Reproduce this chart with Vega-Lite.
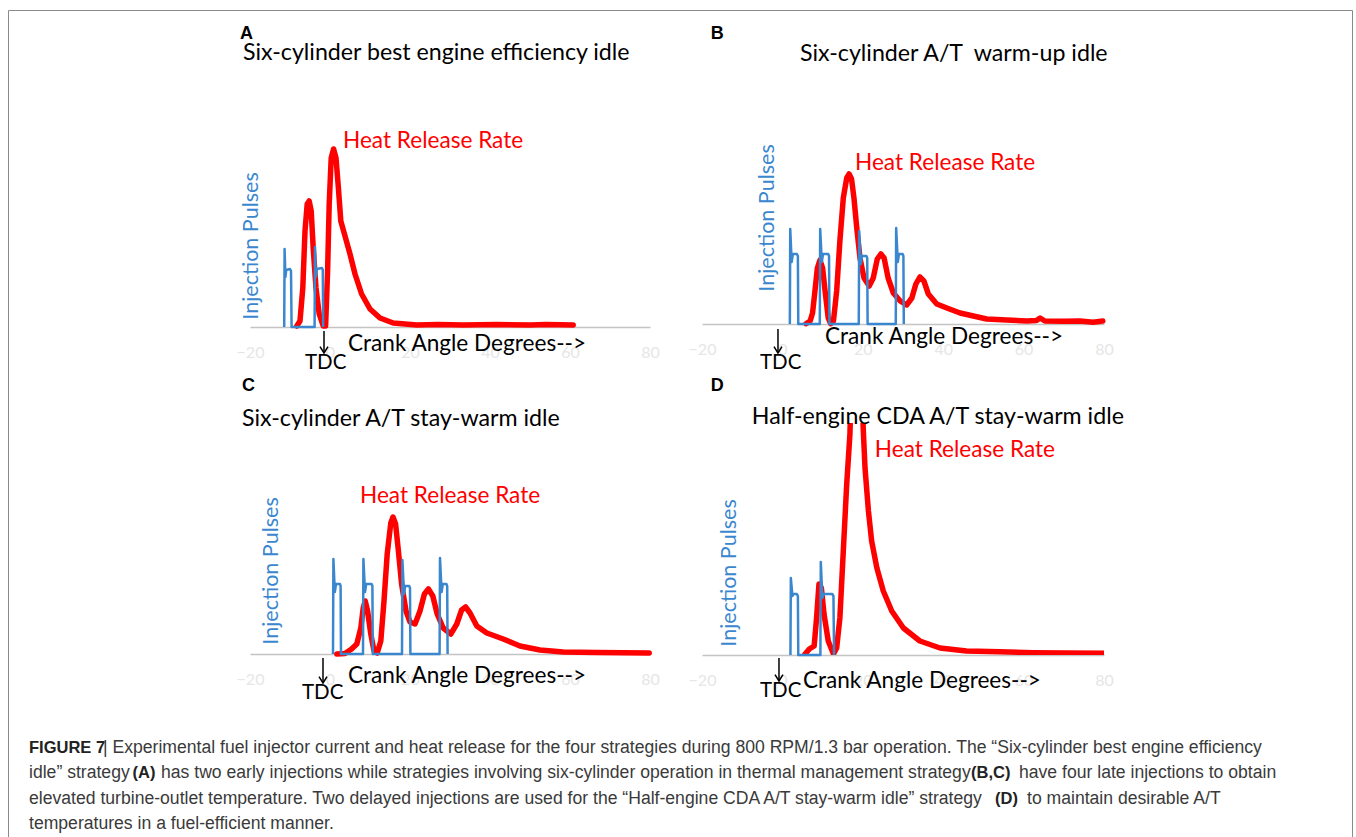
{
"$schema": "https://vega.github.io/schema/vega-lite/v6.json",
"padding": {"left": 8, "top": 9, "right": 0, "bottom": 0},
"background": "white",
"config": {"view": {"stroke": null}},
"datasets": {
"curves": [
{"panel":"A","s":"hrr","deg":-8.3,"v":1},{"panel":"A","s":"hrr","deg":-7.5,"v":6},{"panel":"A","s":"hrr","deg":-6.8,"v":39},{"panel":"A","s":"hrr","deg":-6.25,"v":96},{"panel":"A","s":"hrr","deg":-5.7,"v":123},{"panel":"A","s":"hrr","deg":-5.2,"v":126},{"panel":"A","s":"hrr","deg":-4.7,"v":116},{"panel":"A","s":"hrr","deg":-4.2,"v":79},{"panel":"A","s":"hrr","deg":-3.5,"v":39},{"panel":"A","s":"hrr","deg":-2.7,"v":13},{"panel":"A","s":"hrr","deg":-1.7,"v":1},{"panel":"A","s":"hrr","deg":-1.1,"v":1},{"panel":"A","s":"hrr","deg":-0.6,"v":56},{"panel":"A","s":"hrr","deg":-0.2,"v":123},{"panel":"A","s":"hrr","deg":0.3,"v":169},{"panel":"A","s":"hrr","deg":0.9,"v":178},{"panel":"A","s":"hrr","deg":1.5,"v":169},{"panel":"A","s":"hrr","deg":2.1,"v":139},{"panel":"A","s":"hrr","deg":2.7,"v":106},{"panel":"A","s":"hrr","deg":3.75,"v":91},{"panel":"A","s":"hrr","deg":5,"v":73},{"panel":"A","s":"hrr","deg":6.25,"v":53},{"panel":"A","s":"hrr","deg":7.9,"v":33},{"panel":"A","s":"hrr","deg":10,"v":18},{"panel":"A","s":"hrr","deg":12.5,"v":9},{"panel":"A","s":"hrr","deg":15.8,"v":4},{"panel":"A","s":"hrr","deg":21.7,"v":2},{"panel":"A","s":"hrr","deg":27,"v":2.5},{"panel":"A","s":"hrr","deg":33.3,"v":2},{"panel":"A","s":"hrr","deg":41.7,"v":2.5},{"panel":"A","s":"hrr","deg":50,"v":2},{"panel":"A","s":"hrr","deg":54,"v":2.5},{"panel":"A","s":"hrr","deg":60.8,"v":2},
{"panel":"A","s":"inj","deg":-11.45,"v":0},{"panel":"A","s":"inj","deg":-11.35,"v":78},{"panel":"A","s":"inj","deg":-11.15,"v":50},{"panel":"A","s":"inj","deg":-10.95,"v":57},{"panel":"A","s":"inj","deg":-10.0,"v":58},{"panel":"A","s":"inj","deg":-9.75,"v":56},{"panel":"A","s":"inj","deg":-9.6,"v":0},{"panel":"A","s":"inj","deg":-3.85,"v":0},{"panel":"A","s":"inj","deg":-3.75,"v":80},{"panel":"A","s":"inj","deg":-3.55,"v":50},{"panel":"A","s":"inj","deg":-3.3,"v":58},{"panel":"A","s":"inj","deg":-2.0,"v":59},{"panel":"A","s":"inj","deg":-1.8,"v":57},{"panel":"A","s":"inj","deg":-1.7,"v":0},
{"panel":"B","s":"hrr","deg":5.87,"v":0.3},{"panel":"B","s":"hrr","deg":6.9,"v":3},{"panel":"B","s":"hrr","deg":7.5,"v":11},{"panel":"B","s":"hrr","deg":8.1,"v":33},{"panel":"B","s":"hrr","deg":8.7,"v":56},{"panel":"B","s":"hrr","deg":9.35,"v":64},{"panel":"B","s":"hrr","deg":10,"v":56},{"panel":"B","s":"hrr","deg":10.7,"v":30},{"panel":"B","s":"hrr","deg":11.4,"v":6},{"panel":"B","s":"hrr","deg":12,"v":0.3},{"panel":"B","s":"hrr","deg":12.7,"v":3},{"panel":"B","s":"hrr","deg":13.5,"v":33},{"panel":"B","s":"hrr","deg":14.3,"v":83},{"panel":"B","s":"hrr","deg":15.15,"v":126},{"panel":"B","s":"hrr","deg":16,"v":146},{"panel":"B","s":"hrr","deg":16.6,"v":150},{"panel":"B","s":"hrr","deg":17.2,"v":145},{"panel":"B","s":"hrr","deg":17.8,"v":126},{"panel":"B","s":"hrr","deg":18.5,"v":96},{"panel":"B","s":"hrr","deg":19.3,"v":66},{"panel":"B","s":"hrr","deg":20.3,"v":46},{"panel":"B","s":"hrr","deg":21.6,"v":38},{"panel":"B","s":"hrr","deg":22.6,"v":46},{"panel":"B","s":"hrr","deg":23.6,"v":65},{"panel":"B","s":"hrr","deg":24.5,"v":70},{"panel":"B","s":"hrr","deg":25.3,"v":66},{"panel":"B","s":"hrr","deg":26.3,"v":46},{"panel":"B","s":"hrr","deg":27.6,"v":31},{"panel":"B","s":"hrr","deg":29.3,"v":23},{"panel":"B","s":"hrr","deg":30.9,"v":19},{"panel":"B","s":"hrr","deg":32.2,"v":26},{"panel":"B","s":"hrr","deg":33.2,"v":40},{"panel":"B","s":"hrr","deg":34.2,"v":47},{"panel":"B","s":"hrr","deg":35.2,"v":43},{"panel":"B","s":"hrr","deg":36.3,"v":30},{"panel":"B","s":"hrr","deg":38.4,"v":20},{"panel":"B","s":"hrr","deg":40.9,"v":16},{"panel":"B","s":"hrr","deg":44.2,"v":11},{"panel":"B","s":"hrr","deg":47.5,"v":8},{"panel":"B","s":"hrr","deg":50.8,"v":5},{"panel":"B","s":"hrr","deg":55.8,"v":4},{"panel":"B","s":"hrr","deg":60.8,"v":3},{"panel":"B","s":"hrr","deg":63.2,"v":3.5},{"panel":"B","s":"hrr","deg":64.1,"v":6},{"panel":"B","s":"hrr","deg":65.3,"v":3},{"panel":"B","s":"hrr","deg":69.9,"v":2.7},{"panel":"B","s":"hrr","deg":74,"v":3},{"panel":"B","s":"hrr","deg":77.3,"v":1.7},{"panel":"B","s":"hrr","deg":79.7,"v":3},
{"panel":"B","s":"inj","deg":1.85,"v":0},{"panel":"B","s":"inj","deg":1.95,"v":95},{"panel":"B","s":"inj","deg":2.3,"v":62},{"panel":"B","s":"inj","deg":2.6,"v":70},{"panel":"B","s":"inj","deg":3.6,"v":70},{"panel":"B","s":"inj","deg":3.85,"v":68},{"panel":"B","s":"inj","deg":3.95,"v":0},{"panel":"B","s":"inj","deg":9.3,"v":0},{"panel":"B","s":"inj","deg":9.4,"v":95},{"panel":"B","s":"inj","deg":9.8,"v":62},{"panel":"B","s":"inj","deg":10.1,"v":70},{"panel":"B","s":"inj","deg":11.4,"v":70},{"panel":"B","s":"inj","deg":11.6,"v":68},{"panel":"B","s":"inj","deg":11.7,"v":0},{"panel":"B","s":"inj","deg":19.0,"v":0},{"panel":"B","s":"inj","deg":19.1,"v":93},{"panel":"B","s":"inj","deg":19.5,"v":60},{"panel":"B","s":"inj","deg":19.8,"v":68},{"panel":"B","s":"inj","deg":20.9,"v":68},{"panel":"B","s":"inj","deg":21.1,"v":66},{"panel":"B","s":"inj","deg":21.2,"v":0},{"panel":"B","s":"inj","deg":28.2,"v":0},{"panel":"B","s":"inj","deg":28.3,"v":96},{"panel":"B","s":"inj","deg":28.7,"v":62},{"panel":"B","s":"inj","deg":29.0,"v":70},{"panel":"B","s":"inj","deg":29.9,"v":70},{"panel":"B","s":"inj","deg":30.1,"v":68},{"panel":"B","s":"inj","deg":30.2,"v":0},
{"panel":"C","s":"hrr","deg":1.7,"v":0},{"panel":"C","s":"hrr","deg":3.75,"v":0.5},{"panel":"C","s":"hrr","deg":5.4,"v":5},{"panel":"C","s":"hrr","deg":6.7,"v":10},{"panel":"C","s":"hrr","deg":7.7,"v":26},{"panel":"C","s":"hrr","deg":8.3,"v":46},{"panel":"C","s":"hrr","deg":8.8,"v":53},{"panel":"C","s":"hrr","deg":9.4,"v":43},{"panel":"C","s":"hrr","deg":10.2,"v":20},{"panel":"C","s":"hrr","deg":11,"v":3},{"panel":"C","s":"hrr","deg":11.8,"v":1},{"panel":"C","s":"hrr","deg":12.7,"v":13},{"panel":"C","s":"hrr","deg":13.5,"v":53},{"panel":"C","s":"hrr","deg":14.3,"v":100},{"panel":"C","s":"hrr","deg":15.2,"v":131},{"panel":"C","s":"hrr","deg":15.75,"v":137},{"panel":"C","s":"hrr","deg":16.4,"v":130},{"panel":"C","s":"hrr","deg":17.1,"v":103},{"panel":"C","s":"hrr","deg":17.9,"v":70},{"panel":"C","s":"hrr","deg":19,"v":43},{"panel":"C","s":"hrr","deg":20,"v":32},{"panel":"C","s":"hrr","deg":21.25,"v":30},{"panel":"C","s":"hrr","deg":22.5,"v":43},{"panel":"C","s":"hrr","deg":23.6,"v":60},{"panel":"C","s":"hrr","deg":24.6,"v":65},{"panel":"C","s":"hrr","deg":25.7,"v":58},{"panel":"C","s":"hrr","deg":26.8,"v":40},{"panel":"C","s":"hrr","deg":28.3,"v":26},{"panel":"C","s":"hrr","deg":30.2,"v":20},{"panel":"C","s":"hrr","deg":31.7,"v":30},{"panel":"C","s":"hrr","deg":32.9,"v":44},{"panel":"C","s":"hrr","deg":33.9,"v":47},{"panel":"C","s":"hrr","deg":35,"v":41},{"panel":"C","s":"hrr","deg":36.7,"v":28},{"panel":"C","s":"hrr","deg":39.2,"v":21},{"panel":"C","s":"hrr","deg":43.3,"v":15},{"panel":"C","s":"hrr","deg":47.5,"v":8},{"panel":"C","s":"hrr","deg":52.5,"v":4},{"panel":"C","s":"hrr","deg":58.3,"v":2},{"panel":"C","s":"hrr","deg":66.7,"v":1.5},{"panel":"C","s":"hrr","deg":79.8,"v":1},
{"panel":"C","s":"inj","deg":0.75,"v":0},{"panel":"C","s":"inj","deg":0.85,"v":95},{"panel":"C","s":"inj","deg":1.2,"v":62},{"panel":"C","s":"inj","deg":1.5,"v":70},{"panel":"C","s":"inj","deg":2.5,"v":70},{"panel":"C","s":"inj","deg":2.65,"v":68},{"panel":"C","s":"inj","deg":2.75,"v":0},{"panel":"C","s":"inj","deg":8.25,"v":0},{"panel":"C","s":"inj","deg":8.35,"v":95},{"panel":"C","s":"inj","deg":8.75,"v":62},{"panel":"C","s":"inj","deg":9.05,"v":70},{"panel":"C","s":"inj","deg":10.4,"v":70},{"panel":"C","s":"inj","deg":10.6,"v":68},{"panel":"C","s":"inj","deg":10.7,"v":0},{"panel":"C","s":"inj","deg":18.0,"v":0},{"panel":"C","s":"inj","deg":18.1,"v":94},{"panel":"C","s":"inj","deg":18.5,"v":60},{"panel":"C","s":"inj","deg":18.8,"v":68},{"panel":"C","s":"inj","deg":19.8,"v":68},{"panel":"C","s":"inj","deg":20.0,"v":66},{"panel":"C","s":"inj","deg":20.1,"v":0},{"panel":"C","s":"inj","deg":27.4,"v":0},{"panel":"C","s":"inj","deg":27.5,"v":96},{"panel":"C","s":"inj","deg":27.9,"v":62},{"panel":"C","s":"inj","deg":28.2,"v":70},{"panel":"C","s":"inj","deg":29.1,"v":70},{"panel":"C","s":"inj","deg":29.3,"v":68},{"panel":"C","s":"inj","deg":29.4,"v":0},
{"panel":"D","s":"hrr","deg":5.6,"v":0.7},{"panel":"D","s":"hrr","deg":6.7,"v":6},{"panel":"D","s":"hrr","deg":7.9,"v":9},{"panel":"D","s":"hrr","deg":8.5,"v":37},{"panel":"D","s":"hrr","deg":9.1,"v":71},{"panel":"D","s":"hrr","deg":9.7,"v":67},{"panel":"D","s":"hrr","deg":10.35,"v":41},{"panel":"D","s":"hrr","deg":11.4,"v":14},{"panel":"D","s":"hrr","deg":12.7,"v":1},{"panel":"D","s":"hrr","deg":13.5,"v":7},{"panel":"D","s":"hrr","deg":14.3,"v":37},{"panel":"D","s":"hrr","deg":15.15,"v":104},{"panel":"D","s":"hrr","deg":16,"v":171},{"panel":"D","s":"hrr","deg":16.8,"v":221},{"panel":"D","s":"hrr","deg":17.3,"v":300},{"panel":"D","s":"hrr","deg":17.9,"v":390},{"panel":"D","s":"hrr","deg":18.5,"v":420},{"panel":"D","s":"hrr","deg":19.1,"v":390},{"panel":"D","s":"hrr","deg":19.6,"v":310},{"panel":"D","s":"hrr","deg":20.1,"v":227},{"panel":"D","s":"hrr","deg":20.55,"v":187},{"panel":"D","s":"hrr","deg":21.4,"v":144},{"panel":"D","s":"hrr","deg":22.2,"v":114},{"panel":"D","s":"hrr","deg":23.5,"v":87},{"panel":"D","s":"hrr","deg":25.1,"v":64},{"panel":"D","s":"hrr","deg":27.2,"v":44},{"panel":"D","s":"hrr","deg":30.1,"v":27},{"panel":"D","s":"hrr","deg":34.2,"v":14},{"panel":"D","s":"hrr","deg":39.2,"v":7},{"panel":"D","s":"hrr","deg":45.8,"v":4},{"panel":"D","s":"hrr","deg":54.1,"v":3.3},{"panel":"D","s":"hrr","deg":62.4,"v":2.3},{"panel":"D","s":"hrr","deg":70.7,"v":2},{"panel":"D","s":"hrr","deg":80,"v":1.7},
{"panel":"D","s":"inj","deg":2.0,"v":0},{"panel":"D","s":"inj","deg":2.1,"v":77},{"panel":"D","s":"inj","deg":2.5,"v":59},{"panel":"D","s":"inj","deg":2.7,"v":61},{"panel":"D","s":"inj","deg":3.6,"v":61},{"panel":"D","s":"inj","deg":3.85,"v":59},{"panel":"D","s":"inj","deg":3.95,"v":0},{"panel":"D","s":"inj","deg":9.45,"v":0},{"panel":"D","s":"inj","deg":9.55,"v":93},{"panel":"D","s":"inj","deg":9.95,"v":57},{"panel":"D","s":"inj","deg":10.2,"v":61},{"panel":"D","s":"inj","deg":12.4,"v":61},{"panel":"D","s":"inj","deg":12.7,"v":59},{"panel":"D","s":"inj","deg":12.85,"v":0}
],
"labels": [
{"panel":"A","kind":"letter","text":"A","deg":-22.5,"v":293},
{"panel":"A","kind":"title","text":"Six-cylinder best engine efficiency idle","deg":-21.75,"v":274},
{"panel":"A","kind":"hrr","text":"Heat Release Rate","deg":3.25,"v":186},
{"panel":"A","kind":"inj","text":"Injection Pulses","deg":-19.5,"v":81},
{"panel":"A","kind":"crank","text":"Crank Angle Degrees-->","deg":4.5,"v":-17},
{"panel":"A","kind":"tdc","text":"TDC","deg":-6.25,"v":-36},
{"panel":"A","kind":"arrow","text":"","deg":-1.5,"v":-4,"v2":-26},
{"panel":"B","kind":"letter","text":"B","deg":-17.8,"v":290},
{"panel":"B","kind":"title","text":"Six-cylinder A/T\u00a0 warm-up idle","deg":4.38,"v":270},
{"panel":"B","kind":"hrr","text":"Heat Release Rate","deg":18.06,"v":161},
{"panel":"B","kind":"inj","text":"Injection Pulses","deg":-3.58,"v":106},
{"panel":"B","kind":"crank","text":"Crank Angle Degrees-->","deg":10.6,"v":-13},
{"panel":"B","kind":"tdc","text":"TDC","deg":-5.57,"v":-39},
{"panel":"B","kind":"arrow","text":"","deg":-1.1,"v":-5,"v2":-29},
{"panel":"C","kind":"letter","text":"C","deg":-22,"v":268},
{"panel":"C","kind":"title","text":"Six-cylinder A/T stay-warm idle","deg":-22,"v":235},
{"panel":"C","kind":"hrr","text":"Heat Release Rate","deg":7.5,"v":158},
{"panel":"C","kind":"inj","text":"Injection Pulses","deg":-14.5,"v":83},
{"panel":"C","kind":"crank","text":"Crank Angle Degrees-->","deg":4.5,"v":-22},
{"panel":"C","kind":"tdc","text":"TDC","deg":-7,"v":-39},
{"panel":"C","kind":"arrow","text":"","deg":-1.75,"v":-4,"v2":-29},
{"panel":"D","kind":"letter","text":"D","deg":-17.8,"v":269},
{"panel":"D","kind":"title","text":"Half-engine CDA A/T stay-warm idle","deg":-7.6,"v":238},
{"panel":"D","kind":"hrr","text":"Heat Release Rate","deg":23.0,"v":205},
{"panel":"D","kind":"inj","text":"Injection Pulses","deg":-13.0,"v":82},
{"panel":"D","kind":"crank","text":"Crank Angle Degrees-->","deg":5.1,"v":-26},
{"panel":"D","kind":"tdc","text":"TDC","deg":-5.57,"v":-36},
{"panel":"D","kind":"arrow","text":"","deg":-0.85,"v":-3,"v2":-26}
],
"caption": [
{"line":1,"at":29,"kind":"ref","text":"FIGURE 7"},
{"line":1,"at":103,"kind":"body","text":"| Experimental fuel injector current and heat release for the four strategies during 800 RPM/1.3 bar operation. The “Six-cylinder best engine efficiency"},
{"line":2,"at":29,"kind":"body","text":"idle” strategy"},
{"line":2,"at":132.5,"kind":"ref","text":"(A)"},
{"line":2,"at":161,"kind":"body","text":"has two early injections while strategies involving six-cylinder operation in thermal management strategy"},
{"line":2,"at":971,"kind":"ref","text":"(B,C)"},
{"line":2,"at":1019,"kind":"body","text":"have four late injections to obtain"},
{"line":3,"at":29,"kind":"body","text":"elevated turbine-outlet temperature. Two delayed injections are used for the “Half-engine CDA A/T stay-warm idle” strategy"},
{"line":3,"at":995,"kind":"ref","text":"(D)"},
{"line":3,"at":1027,"kind":"body","text":"to maintain desirable A/T"},
{"line":4,"at":29,"kind":"body","text":"temperatures in a fuel-efficient manner."}
]
},
"columns": 2,
"spacing": {"row": 96, "column": 52},
"bounds": "flush",
"concat": [
{"width": 400, "height": 200,
"encoding": {
"x": {"field": "deg", "type": "quantitative", "scale": {"domain": [-20, 80], "nice": false, "zero": false}, "axis": {"values": [-20, 0, 20, 40, 60, 80], "title": null, "ticks": false, "grid": false, "domainColor": "#c4c4c4", "domainWidth": 1.5, "labelColor": "#e6e6e6", "labelFont": "Lato", "labelFontSize": 16, "labelPadding": 17, "labelFlush": false, "labelOverlap": false}},
"y": {"field": "v", "type": "quantitative", "scale": {"domain": [0, 200], "nice": false, "zero": false}, "axis": null}},
"layer": [
{"data": {"name": "curves"}, "transform": [{"filter": "datum.panel === 'A' && datum.s === 'hrr'"}], "mark": {"type": "line", "color": "#ff0000", "strokeWidth": 5.5, "strokeJoin": "round", "strokeCap": "round"}},
{"data": {"name": "curves"}, "transform": [{"filter": "datum.panel === 'A' && datum.s === 'inj'"}], "mark": {"type": "line", "color": "#3a87cf", "strokeWidth": 2.5, "strokeJoin": "round"}},
{"data": {"name": "labels"}, "transform": [{"filter": "datum.panel === 'A' && datum.kind === 'arrow'"}], "mark": {"type": "rule", "color": "#000000", "strokeWidth": 1.5}, "encoding": {"y2": {"field": "v2"}}},
{"data": {"name": "labels"}, "transform": [{"filter": "datum.panel === 'A' && datum.kind === 'arrow'"}], "mark": {"type": "point", "shape": "M-1,-1.6L0,0L1,-1.6", "filled": false, "color": "#000000", "strokeWidth": 1.5, "size": 64, "opacity": 1}, "encoding": {"y": {"field": "v2", "type": "quantitative"}}},
{"data": {"name": "labels"}, "transform": [{"filter": "datum.panel === 'A' && datum.kind === 'letter'"}], "mark": {"type": "text", "align": "left", "baseline": "middle", "font": "Liberation Sans", "fontWeight": "bold", "fontSize": 18, "color": "#000000"}, "encoding": {"text": {"field": "text"}}},
{"data": {"name": "labels"}, "transform": [{"filter": "datum.panel === 'A' && datum.kind === 'title'"}], "mark": {"type": "text", "align": "left", "baseline": "middle", "font": "Lato", "fontSize": 23.2, "color": "#000000"}, "encoding": {"text": {"field": "text"}}},
{"data": {"name": "labels"}, "transform": [{"filter": "datum.panel === 'A' && datum.kind === 'hrr'"}], "mark": {"type": "text", "align": "left", "baseline": "middle", "font": "Lato", "fontSize": 22.6, "color": "#ff0000"}, "encoding": {"text": {"field": "text"}}},
{"data": {"name": "labels"}, "transform": [{"filter": "datum.panel === 'A' && datum.kind === 'crank'"}], "mark": {"type": "text", "align": "left", "baseline": "middle", "font": "Lato", "fontSize": 22.6, "color": "#000000"}, "encoding": {"text": {"field": "text"}}},
{"data": {"name": "labels"}, "transform": [{"filter": "datum.panel === 'A' && datum.kind === 'tdc'"}], "mark": {"type": "text", "align": "left", "baseline": "middle", "font": "Lato", "fontSize": 20.5, "color": "#000000"}, "encoding": {"text": {"field": "text"}}},
{"data": {"name": "labels"}, "transform": [{"filter": "datum.panel === 'A' && datum.kind === 'inj'"}], "mark": {"type": "text", "align": "center", "baseline": "middle", "font": "Lato", "fontSize": 21.5, "angle": 270, "color": "#3a87cf"}, "encoding": {"text": {"field": "text"}}}
]},
{"width": 402, "height": 197,
"encoding": {
"x": {"field": "deg", "type": "quantitative", "scale": {"domain": [-20, 80], "nice": false, "zero": false}, "axis": {"values": [-20, 0, 20, 40, 60, 80], "title": null, "ticks": false, "grid": false, "domainColor": "#c4c4c4", "domainWidth": 1.5, "labelColor": "#e6e6e6", "labelFont": "Lato", "labelFontSize": 16, "labelPadding": 17, "labelFlush": false, "labelOverlap": false}},
"y": {"field": "v", "type": "quantitative", "scale": {"domain": [0, 197], "nice": false, "zero": false}, "axis": null}},
"layer": [
{"data": {"name": "curves"}, "transform": [{"filter": "datum.panel === 'B' && datum.s === 'hrr'"}], "mark": {"type": "line", "color": "#ff0000", "strokeWidth": 5.5, "strokeJoin": "round", "strokeCap": "round"}},
{"data": {"name": "curves"}, "transform": [{"filter": "datum.panel === 'B' && datum.s === 'inj'"}], "mark": {"type": "line", "color": "#3a87cf", "strokeWidth": 2.5, "strokeJoin": "round"}},
{"data": {"name": "labels"}, "transform": [{"filter": "datum.panel === 'B' && datum.kind === 'arrow'"}], "mark": {"type": "rule", "color": "#000000", "strokeWidth": 1.5}, "encoding": {"y2": {"field": "v2"}}},
{"data": {"name": "labels"}, "transform": [{"filter": "datum.panel === 'B' && datum.kind === 'arrow'"}], "mark": {"type": "point", "shape": "M-1,-1.6L0,0L1,-1.6", "filled": false, "color": "#000000", "strokeWidth": 1.5, "size": 64, "opacity": 1}, "encoding": {"y": {"field": "v2", "type": "quantitative"}}},
{"data": {"name": "labels"}, "transform": [{"filter": "datum.panel === 'B' && datum.kind === 'letter'"}], "mark": {"type": "text", "align": "left", "baseline": "middle", "font": "Liberation Sans", "fontWeight": "bold", "fontSize": 18, "color": "#000000"}, "encoding": {"text": {"field": "text"}}},
{"data": {"name": "labels"}, "transform": [{"filter": "datum.panel === 'B' && datum.kind === 'title'"}], "mark": {"type": "text", "align": "left", "baseline": "middle", "font": "Lato", "fontSize": 23.2, "color": "#000000"}, "encoding": {"text": {"field": "text"}}},
{"data": {"name": "labels"}, "transform": [{"filter": "datum.panel === 'B' && datum.kind === 'hrr'"}], "mark": {"type": "text", "align": "left", "baseline": "middle", "font": "Lato", "fontSize": 22.6, "color": "#ff0000"}, "encoding": {"text": {"field": "text"}}},
{"data": {"name": "labels"}, "transform": [{"filter": "datum.panel === 'B' && datum.kind === 'crank'"}], "mark": {"type": "text", "align": "left", "baseline": "middle", "font": "Lato", "fontSize": 22.6, "color": "#000000"}, "encoding": {"text": {"field": "text"}}},
{"data": {"name": "labels"}, "transform": [{"filter": "datum.panel === 'B' && datum.kind === 'tdc'"}], "mark": {"type": "text", "align": "left", "baseline": "middle", "font": "Lato", "fontSize": 20.5, "color": "#000000"}, "encoding": {"text": {"field": "text"}}},
{"data": {"name": "labels"}, "transform": [{"filter": "datum.panel === 'B' && datum.kind === 'inj'"}], "mark": {"type": "text", "align": "center", "baseline": "middle", "font": "Lato", "fontSize": 21.5, "angle": 270, "color": "#3a87cf"}, "encoding": {"text": {"field": "text"}}}
]},
{"width": 400, "height": 231,
"encoding": {
"x": {"field": "deg", "type": "quantitative", "scale": {"domain": [-20, 80], "nice": false, "zero": false}, "axis": {"values": [-20, 0, 20, 40, 60, 80], "title": null, "ticks": false, "grid": false, "domainColor": "#c4c4c4", "domainWidth": 1.5, "labelColor": "#e6e6e6", "labelFont": "Lato", "labelFontSize": 16, "labelPadding": 17, "labelFlush": false, "labelOverlap": false}},
"y": {"field": "v", "type": "quantitative", "scale": {"domain": [0, 231], "nice": false, "zero": false}, "axis": null}},
"layer": [
{"data": {"name": "curves"}, "transform": [{"filter": "datum.panel === 'C' && datum.s === 'hrr'"}], "mark": {"type": "line", "color": "#ff0000", "strokeWidth": 5.5, "strokeJoin": "round", "strokeCap": "round"}},
{"data": {"name": "curves"}, "transform": [{"filter": "datum.panel === 'C' && datum.s === 'inj'"}], "mark": {"type": "line", "color": "#3a87cf", "strokeWidth": 2.5, "strokeJoin": "round"}},
{"data": {"name": "labels"}, "transform": [{"filter": "datum.panel === 'C' && datum.kind === 'arrow'"}], "mark": {"type": "rule", "color": "#000000", "strokeWidth": 1.5}, "encoding": {"y2": {"field": "v2"}}},
{"data": {"name": "labels"}, "transform": [{"filter": "datum.panel === 'C' && datum.kind === 'arrow'"}], "mark": {"type": "point", "shape": "M-1,-1.6L0,0L1,-1.6", "filled": false, "color": "#000000", "strokeWidth": 1.5, "size": 64, "opacity": 1}, "encoding": {"y": {"field": "v2", "type": "quantitative"}}},
{"data": {"name": "labels"}, "transform": [{"filter": "datum.panel === 'C' && datum.kind === 'letter'"}], "mark": {"type": "text", "align": "left", "baseline": "middle", "font": "Liberation Sans", "fontWeight": "bold", "fontSize": 18, "color": "#000000"}, "encoding": {"text": {"field": "text"}}},
{"data": {"name": "labels"}, "transform": [{"filter": "datum.panel === 'C' && datum.kind === 'title'"}], "mark": {"type": "text", "align": "left", "baseline": "middle", "font": "Lato", "fontSize": 23.2, "color": "#000000"}, "encoding": {"text": {"field": "text"}}},
{"data": {"name": "labels"}, "transform": [{"filter": "datum.panel === 'C' && datum.kind === 'hrr'"}], "mark": {"type": "text", "align": "left", "baseline": "middle", "font": "Lato", "fontSize": 22.6, "color": "#ff0000"}, "encoding": {"text": {"field": "text"}}},
{"data": {"name": "labels"}, "transform": [{"filter": "datum.panel === 'C' && datum.kind === 'crank'"}], "mark": {"type": "text", "align": "left", "baseline": "middle", "font": "Lato", "fontSize": 22.6, "color": "#000000"}, "encoding": {"text": {"field": "text"}}},
{"data": {"name": "labels"}, "transform": [{"filter": "datum.panel === 'C' && datum.kind === 'tdc'"}], "mark": {"type": "text", "align": "left", "baseline": "middle", "font": "Lato", "fontSize": 20.5, "color": "#000000"}, "encoding": {"text": {"field": "text"}}},
{"data": {"name": "labels"}, "transform": [{"filter": "datum.panel === 'C' && datum.kind === 'inj'"}], "mark": {"type": "text", "align": "center", "baseline": "middle", "font": "Lato", "fontSize": 21.5, "angle": 270, "color": "#3a87cf"}, "encoding": {"text": {"field": "text"}}}
]},
{"width": 402, "height": 232,
"encoding": {
"x": {"field": "deg", "type": "quantitative", "scale": {"domain": [-20, 80], "nice": false, "zero": false}, "axis": {"values": [-20, 0, 20, 40, 60, 80], "title": null, "ticks": false, "grid": false, "domainColor": "#c4c4c4", "domainWidth": 1.5, "labelColor": "#e6e6e6", "labelFont": "Lato", "labelFontSize": 16, "labelPadding": 17, "labelFlush": false, "labelOverlap": false}},
"y": {"field": "v", "type": "quantitative", "scale": {"domain": [0, 232], "nice": false, "zero": false}, "axis": null}},
"layer": [
{"data": {"name": "curves"}, "transform": [{"filter": "datum.panel === 'D' && datum.s === 'hrr'"}], "mark": {"type": "line", "color": "#ff0000", "strokeWidth": 5.5, "strokeJoin": "round", "strokeCap": "round", "clip": true}},
{"data": {"name": "curves"}, "transform": [{"filter": "datum.panel === 'D' && datum.s === 'inj'"}], "mark": {"type": "line", "color": "#3a87cf", "strokeWidth": 2.5, "strokeJoin": "round"}},
{"data": {"name": "labels"}, "transform": [{"filter": "datum.panel === 'D' && datum.kind === 'arrow'"}], "mark": {"type": "rule", "color": "#000000", "strokeWidth": 1.5}, "encoding": {"y2": {"field": "v2"}}},
{"data": {"name": "labels"}, "transform": [{"filter": "datum.panel === 'D' && datum.kind === 'arrow'"}], "mark": {"type": "point", "shape": "M-1,-1.6L0,0L1,-1.6", "filled": false, "color": "#000000", "strokeWidth": 1.5, "size": 64, "opacity": 1}, "encoding": {"y": {"field": "v2", "type": "quantitative"}}},
{"data": {"name": "labels"}, "transform": [{"filter": "datum.panel === 'D' && datum.kind === 'letter'"}], "mark": {"type": "text", "align": "left", "baseline": "middle", "font": "Liberation Sans", "fontWeight": "bold", "fontSize": 18, "color": "#000000"}, "encoding": {"text": {"field": "text"}}},
{"data": {"name": "labels"}, "transform": [{"filter": "datum.panel === 'D' && datum.kind === 'title'"}], "mark": {"type": "text", "align": "left", "baseline": "middle", "font": "Lato", "fontSize": 23.2, "color": "#000000"}, "encoding": {"text": {"field": "text"}}},
{"data": {"name": "labels"}, "transform": [{"filter": "datum.panel === 'D' && datum.kind === 'hrr'"}], "mark": {"type": "text", "align": "left", "baseline": "middle", "font": "Lato", "fontSize": 22.6, "color": "#ff0000"}, "encoding": {"text": {"field": "text"}}},
{"data": {"name": "labels"}, "transform": [{"filter": "datum.panel === 'D' && datum.kind === 'crank'"}], "mark": {"type": "text", "align": "left", "baseline": "middle", "font": "Lato", "fontSize": 22.6, "color": "#000000"}, "encoding": {"text": {"field": "text"}}},
{"data": {"name": "labels"}, "transform": [{"filter": "datum.panel === 'D' && datum.kind === 'tdc'"}], "mark": {"type": "text", "align": "left", "baseline": "middle", "font": "Lato", "fontSize": 20.5, "color": "#000000"}, "encoding": {"text": {"field": "text"}}},
{"data": {"name": "labels"}, "transform": [{"filter": "datum.panel === 'D' && datum.kind === 'inj'"}], "mark": {"type": "text", "align": "center", "baseline": "middle", "font": "Lato", "fontSize": 21.5, "angle": 270, "color": "#3a87cf"}, "encoding": {"text": {"field": "text"}}}
]},
{"width": 400, "height": 80,
"layer": [
{"data": {"values": [{"edge": "top"}]}, "mark": {"type": "rule", "color": "#8a8a8a", "strokeWidth": 1}, "encoding": {"x": {"datum": 8.5, "type": "quantitative", "scale": {"domain": [250, 650], "nice": false, "zero": false}, "axis": null}, "x2": {"datum": 1352.5}, "y": {"datum": -28.112, "type": "quantitative", "scale": {"domain": [1.1184, 4.2763], "nice": false, "zero": false, "reverse": true}, "axis": null}}},
{"data": {"values": [{"edge": "left"}]}, "mark": {"type": "rule", "color": "#8a8a8a", "strokeWidth": 1}, "encoding": {"x": {"datum": 8.5, "type": "quantitative", "scale": {"domain": [250, 650], "nice": false, "zero": false}, "axis": null}, "y": {"datum": -28.112, "type": "quantitative", "scale": {"domain": [1.1184, 4.2763], "nice": false, "zero": false, "reverse": true}, "axis": null}, "y2": {"datum": 4.868}}},
{"data": {"values": [{"edge": "right"}]}, "mark": {"type": "rule", "color": "#8a8a8a", "strokeWidth": 1}, "encoding": {"x": {"datum": 1352.5, "type": "quantitative", "scale": {"domain": [250, 650], "nice": false, "zero": false}, "axis": null}, "y": {"datum": -28.112, "type": "quantitative", "scale": {"domain": [1.1184, 4.2763], "nice": false, "zero": false, "reverse": true}, "axis": null}, "y2": {"datum": 4.868}}},
{"data": {"name": "caption"}, "transform": [{"filter": "datum.kind === 'body'"}], "mark": {"type": "text", "align": "left", "baseline": "middle", "font": "Liberation Sans", "fontSize": 17.6, "color": "#3a3a3a"}, "encoding": {"x": {"field": "at", "type": "quantitative", "scale": {"domain": [250, 650], "nice": false, "zero": false}, "axis": null}, "y": {"field": "line", "type": "quantitative", "scale": {"domain": [1.1184, 4.2763], "nice": false, "zero": false, "reverse": true}, "axis": null}, "text": {"field": "text"}}},
{"data": {"name": "caption"}, "transform": [{"filter": "datum.kind === 'ref'"}], "mark": {"type": "text", "align": "left", "baseline": "middle", "font": "Liberation Sans", "fontWeight": "bold", "fontSize": 16.5, "color": "#222222"}, "encoding": {"x": {"field": "at", "type": "quantitative", "scale": {"domain": [250, 650], "nice": false, "zero": false}, "axis": null}, "y": {"field": "line", "type": "quantitative", "scale": {"domain": [1.1184, 4.2763], "nice": false, "zero": false, "reverse": true}, "axis": null}, "text": {"field": "text"}}}
]}
]
}
